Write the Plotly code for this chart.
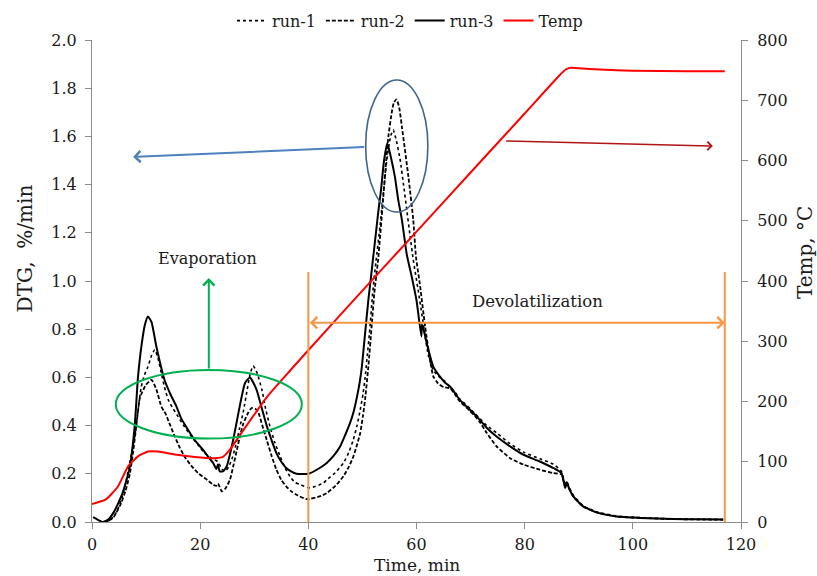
import plotly.graph_objects as go

# ---- DTG curves (time in min, DTG in %/min) ----
run1_t = [2.5, 3.5, 4.5, 5.4, 6.35, 7.1, 7.9, 8.5, 9.1, 9.7, 10.35, 11.0, 11.6, 12.2, 12.8, 13.4, 14.1, 15.0,
          15.9, 17.1, 18.4, 19.6, 20.8, 21.8, 22.7, 23.3, 24.0, 24.6, 25.3, 26.0, 26.6, 27.3, 28.0, 28.7, 29.3,
          29.8, 30.5, 31.4, 32.1, 32.9, 33.8, 34.8, 35.7, 36.6, 37.5, 38.5, 40.3, 42.8, 43.4, 45.0, 46.5, 47.5,
          48.3, 49.0, 49.6, 50.1, 50.5, 50.9, 51.3, 51.9, 52.5, 53.25, 53.9, 54.5, 55.2, 55.7, 56.3, 57.0, 57.6,
          58.2, 58.8, 59.4, 60.3, 61.0, 61.6, 62.2, 63.1, 64.3, 65.2, 66.2, 67.1, 68.0, 69.0, 69.9, 70.8, 71.7,
          73.0, 74.8, 77.3, 79.8, 82.8, 85.3, 86.8, 87.2, 87.5, 87.8, 88.2, 89.0, 90.8, 93.3, 97.0, 101.3,
          107.5, 112.0, 116.7]
run1_v = [0.0, 0.01, 0.04, 0.09, 0.175, 0.26, 0.355, 0.46, 0.56, 0.61, 0.645, 0.69, 0.715, 0.68, 0.62, 0.56,
          0.507, 0.47, 0.438, 0.395, 0.355, 0.32, 0.286, 0.27, 0.258, 0.25, 0.22, 0.21, 0.23, 0.27, 0.32, 0.39,
          0.46, 0.55, 0.62, 0.648, 0.62, 0.55, 0.47, 0.397, 0.33, 0.272, 0.225, 0.189, 0.165, 0.155, 0.141,
          0.162, 0.175, 0.205, 0.245, 0.29, 0.34, 0.40, 0.466, 0.53, 0.60, 0.69, 0.784, 0.95, 1.08, 1.226, 1.37,
          1.50, 1.60, 1.627, 1.58, 1.50, 1.40, 1.295, 1.19, 1.088, 0.963, 0.86, 0.77, 0.69, 0.63, 0.60, 0.585,
          0.56, 0.54, 0.51, 0.49, 0.47, 0.45, 0.43, 0.40, 0.37, 0.325, 0.29, 0.262, 0.24, 0.21, 0.18, 0.15,
          0.17, 0.145, 0.11, 0.068, 0.042, 0.025, 0.018, 0.013, 0.011, 0.01]

run2_t = [2.0, 3.0, 4.0, 5.4, 6.2, 7.0, 7.6, 8.2, 8.8, 9.2, 10.0, 11.0, 11.9, 12.8, 13.3, 13.6, 14.3, 15.3,
          16.2, 17.1, 18.3, 19.6, 21.0, 22.4, 23.0, 23.3, 24.0, 24.7, 25.5, 26.2, 26.8, 27.4, 28.0, 28.8, 29.5,
          30.2, 30.8, 31.5, 32.3, 33.2, 34.1, 35.0, 35.9, 36.8, 37.8, 39.7, 42.1, 43.4, 45.0, 46.5, 47.5, 48.3,
          49.0, 49.6, 50.1, 50.5, 51.1, 51.7, 52.2, 52.9, 53.9, 54.4, 54.8, 55.4, 55.8, 56.3, 56.8, 57.3, 58.5,
          59.4, 59.9, 60.6, 61.6, 62.5, 63.1, 64.0, 65.0, 66.2, 67.1, 68.0, 69.0, 69.9, 70.8, 71.7, 73.0, 74.8,
          77.3, 79.8, 82.8, 85.3, 86.8, 87.2, 87.5, 87.8, 88.2, 89.0, 90.8, 93.3, 97.0, 101.3, 107.5, 112.0,
          116.7]
run2_v = [0.0, 0.005, 0.02, 0.079, 0.13, 0.20, 0.29, 0.40, 0.51, 0.535, 0.57, 0.59, 0.55, 0.48, 0.46, 0.45,
          0.41, 0.355, 0.31, 0.272, 0.235, 0.203, 0.18, 0.155, 0.15, 0.16, 0.127, 0.14, 0.175, 0.24, 0.30, 0.36,
          0.41, 0.45, 0.473, 0.47, 0.452, 0.40, 0.341, 0.275, 0.217, 0.175, 0.148, 0.128, 0.113, 0.095, 0.106,
          0.12, 0.15, 0.19, 0.23, 0.27, 0.32, 0.37, 0.44, 0.51, 0.645, 0.81, 0.95, 1.088, 1.36, 1.50, 1.60,
          1.696, 1.74, 1.754, 1.72, 1.64, 1.433, 1.254, 1.10, 0.99, 0.81, 0.673, 0.604, 0.575, 0.56, 0.555,
          0.53, 0.50, 0.48, 0.46, 0.44, 0.415, 0.369, 0.314, 0.265, 0.238, 0.217, 0.203, 0.198, 0.17, 0.145,
          0.16, 0.14, 0.106, 0.065, 0.04, 0.023, 0.017, 0.012, 0.011, 0.01]

run3_t = [0.2, 1.0, 2.0, 3.0, 4.0, 5.4, 6.2, 7.0, 7.9, 8.5, 9.2, 9.8, 10.35, 11.0, 11.9, 13.4, 14.5, 15.6,
          16.5, 17.75, 19.0, 20.5, 21.5, 22.4, 23.0, 23.3, 23.6, 24.2, 24.9, 25.5, 26.1, 26.8, 27.4, 28.3, 29.2,
          30.4, 31.3, 32.3, 33.2, 34.1, 35.0, 35.9, 36.8, 37.8, 40.0, 42.1, 43.4, 44.7, 45.9, 46.8, 47.7, 48.4,
          49.0, 49.5, 49.9, 50.5, 51.1, 51.4, 51.9, 52.5, 53.0, 53.4, 54.0, 54.6, 55.2, 56.0, 56.6, 57.3, 58.2,
          59.1, 60.0, 60.9, 61.0, 61.3, 61.9, 62.2, 63.1, 64.3, 65.2, 66.2, 67.1, 68.0, 69.0, 69.9, 70.8, 71.7,
          73.0, 74.8, 77.3, 79.8, 82.8, 85.3, 86.8, 87.2, 87.5, 87.8, 88.2, 89.0, 90.8, 93.3, 97.0, 101.3,
          107.5, 112.0, 116.7]
run3_v = [0.02, 0.01, 0.0, 0.01, 0.04, 0.106, 0.16, 0.23, 0.40, 0.60, 0.74, 0.82, 0.853, 0.83, 0.728, 0.59,
          0.53, 0.48, 0.43, 0.383, 0.34, 0.30, 0.27, 0.245, 0.22, 0.24, 0.21, 0.21, 0.23, 0.28, 0.34, 0.42,
          0.49, 0.577, 0.60, 0.55, 0.48, 0.40, 0.34, 0.286, 0.25, 0.224, 0.21, 0.20, 0.20, 0.224, 0.245, 0.275,
          0.314, 0.36, 0.41, 0.46, 0.52, 0.58, 0.645, 0.784, 0.922, 0.98, 1.08, 1.20, 1.30, 1.37, 1.50, 1.572,
          1.52, 1.433, 1.34, 1.254, 1.11, 1.02, 0.92, 0.77, 0.82, 0.80, 0.742, 0.715, 0.645, 0.604, 0.58,
          0.562, 0.535, 0.507, 0.485, 0.466, 0.445, 0.424, 0.39, 0.355, 0.314, 0.279, 0.251, 0.224, 0.203,
          0.17, 0.141, 0.165, 0.14, 0.106, 0.065, 0.04, 0.023, 0.017, 0.012, 0.011, 0.01]

# ---- furnace temperature (°C) ----
temp_t = [0, 2.5, 4.8, 6.65, 8.5, 10.35, 12.2, 15.3, 19.0, 22.7, 24.2, 25.5, 27.4, 29.2, 32.3, 36.6, 40.0,
          50.0, 60.0, 70.0, 80.0, 86.5, 87.6, 88.5, 90.0, 93.9, 100.0, 110.0, 117.0]
temp_v = [30, 37, 59, 92, 109, 117, 117, 112, 108, 106, 108, 120, 145, 168, 207, 251, 285,
          384, 482, 580, 678, 742, 751, 754, 753, 751, 749, 748, 748]

x_ticks = [0, 20, 40, 60, 80, 100, 120]
y_ticks = [0.0, 0.2, 0.4, 0.6, 0.8, 1.0, 1.2, 1.4, 1.6, 1.8, 2.0]
y2_ticks = [0, 100, 200, 300, 400, 500, 600, 700, 800]

FONT = "DejaVu Serif"
AXIS_GREY = "#8c8c8c"
TEXT = "#1a1a1a"

fig = go.Figure()
fig.add_trace(go.Scatter(x=run1_t, y=run1_v, name="run-1", mode="lines",
                         line=dict(color="black", width=1.6, dash="dot", shape="spline", smoothing=0.5)))
fig.add_trace(go.Scatter(x=run2_t, y=run2_v, name="run-2", mode="lines",
                         line=dict(color="black", width=1.8, dash="4px,2px", shape="spline", smoothing=0.5)))
fig.add_trace(go.Scatter(x=run3_t, y=run3_v, name="run-3", mode="lines",
                         line=dict(color="black", width=2, shape="spline", smoothing=0.5)))
fig.add_trace(go.Scatter(x=temp_t, y=temp_v, name="Temp", mode="lines", yaxis="y2",
                         line=dict(color="#ff0000", width=2, shape="spline", smoothing=0.5)))

# ellipses and vertical boundary lines
fig.add_shape(type="circle", xref="x", yref="y", x0=50.6, x1=62.1, y0=1.286, y1=1.834,
              line=dict(color="#41648f", width=1.6))
fig.add_shape(type="circle", xref="x", yref="y", x0=4.4, x1=38.8, y0=0.346, y1=0.631,
              line=dict(color="#00b050", width=2))
for xv in (40, 117):
    fig.add_shape(type="line", xref="x", yref="y", x0=xv, x1=xv, y0=0, y1=1.037,
                  line=dict(color="#f79646", width=2))


def arrow(x, y, ax, ay, color, width=2, both=False):
    fig.add_annotation(x=x, y=y, ax=ax, ay=ay, xref="x", yref="y", axref="x", ayref="y",
                       text="", showarrow=True, arrowhead=4, arrowsize=1.1, arrowwidth=width,
                       arrowcolor=color, arrowside="end+start" if both else "end",
                       startarrowhead=4, startarrowsize=1.1)


arrow(7.6, 1.515, 50.6, 1.556, "#4f81bd")
arrow(114.8, 1.560, 76.3, 1.581, "#b01515", width=1.5)
arrow(21.6, 1.012, 21.6, 0.631, "#00b050")
arrow(117, 0.827, 40, 0.827, "#f79646", both=True)

fig.add_annotation(x=21.4, y=1.095, xref="x", yref="y", text="Evaporation", showarrow=False,
                   font=dict(family=FONT, size=16, color=TEXT))
fig.add_annotation(x=82.3, y=0.913, xref="x", yref="y", text="Devolatilization", showarrow=False,
                   font=dict(family=FONT, size=16.5, color=TEXT))

# axis titles
title_font = dict(family=FONT, size=20, color=TEXT)
fig.add_annotation(x=-0.103, y=0.568, xref="paper", yref="paper", xanchor="center", yanchor="middle",
                   text="DTG,\u00a0 %/min", textangle=-90, showarrow=False, font=title_font)
fig.add_annotation(x=1.0986, y=0.56, xref="paper", yref="paper", xanchor="center", yanchor="middle",
                   text="Temp, °C", textangle=-90, showarrow=False, font=title_font)
fig.add_annotation(x=0.5, y=-0.0892, xref="paper", yref="paper", xanchor="center", yanchor="middle",
                   text="Time, min", showarrow=False, borderpad=0,
                   font=dict(family=FONT, size=17, color=TEXT))

axis_common = dict(showgrid=False, zeroline=False, showline=True, linecolor=AXIS_GREY, linewidth=1,
                   ticks="outside", ticklen=6, tickcolor=AXIS_GREY, automargin=False,
                   tickfont=dict(family=FONT, size=16, color=TEXT))

fig.update_layout(
    width=817, height=576,
    margin=dict(l=92, r=76, t=40, b=54, autoexpand=False),
    paper_bgcolor="white", plot_bgcolor="white",
    font=dict(family=FONT, size=16, color=TEXT),
    showlegend=True,
    legend=dict(orientation="h", x=0.49, xanchor="center", y=1.04, yanchor="middle",
                font=dict(family=FONT, size=16, color=TEXT), itemwidth=30,
                bgcolor="rgba(0,0,0,0)"),
    xaxis=dict(range=[0, 120], tickvals=x_ticks, ticklabelstandoff=2, **axis_common),
    yaxis=dict(range=[0, 2], tickvals=y_ticks, tickformat=".1f", ticklabelstandoff=5, **axis_common),
    yaxis2=dict(range=[0, 800], tickvals=y2_ticks, overlaying="y", side="right",
                ticklabelstandoff=6, **axis_common),
)

fig.write_html("out.html")
